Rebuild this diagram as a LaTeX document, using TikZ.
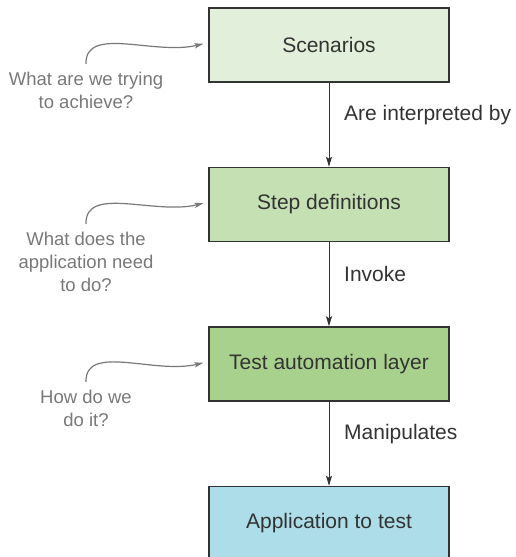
\documentclass[tikz,border=0pt]{standalone}
\usepackage{fontspec}
\setmainfont{Liberation Sans}
\usepackage{tikz}
\usetikzlibrary{arrows.meta, positioning}
\usepackage{xcolor}
\definecolor{scenfill}{HTML}{E2EFDA}
\definecolor{stepfill}{HTML}{C5E0B3}
\definecolor{autofill}{HTML}{A9D18E}
\definecolor{appfill}{HTML}{ADDDE8}
\definecolor{boxline}{HTML}{333333}
\definecolor{notegray}{HTML}{787878}
\tikzstyle{layer} = [rectangle, minimum width=120pt, minimum height=37pt, text centered, draw=boxline, line width=0.75pt, text=boxline, font=\fontsize{10.5}{13}\selectfont]
\tikzstyle{note} = [align=center, text=notegray, inner sep=0pt, font=\fontsize{9.25}{11.5}\selectfont]
\tikzstyle{arrow} = [line width=0.5pt, draw=boxline, -{Stealth[length=5pt,width=3pt,inset=1pt]}]
\tikzstyle{notearrow} = [line width=0.6pt, draw=notegray, shorten >=2.5pt, -{Stealth[length=4.5pt,width=2.6pt,inset=1pt]}]

\begin{document}
\begin{tikzpicture}[node distance=42pt]
    \useasboundingbox (0,0) rectangle (257.5pt,-278.5pt);
    \node (s1) [layer, fill=scenfill] at (164.5pt,-22.5pt) {Scenarios};
    \node (s2) [layer, fill=stepfill, below=of s1] {Step definitions};
    \node (s3) [layer, fill=autofill, below=of s2] {Test automation layer};
    \node (s4) [layer, fill=appfill, below=of s3] {Application to test};

    \foreach \i/\j/\t in {s1/s2/Are interpreted by, s2/s3/Invoke, s3/s4/Manipulates} {
        \draw [arrow] (\i.south) -- node[pos=0.38, right=4pt, text=boxline, font=\fontsize{10.5}{13}\selectfont]{\t} (\j.north);
    }

    % Questions on the left
    \node (n1) [note, anchor=north] at (43pt,-36pt) {What are we trying\\to achieve?};
    \node (n2) [note, anchor=north] at (43pt,-116pt) {What does the\\application need\\to do?};
    \node (n3) [note, anchor=north] at (43pt,-195pt) {How do we\\do it?};
    \foreach \n/\s in {n1/s1, n2/s2, n3/s3} {
        \draw [notearrow] ([yshift=4pt]\n.north) .. controls +(-0.5pt,19.5pt) and +(-27pt,-6.5pt) .. ([yshift=1.2pt]\s.west);
    }
\end{tikzpicture}
\end{document}
